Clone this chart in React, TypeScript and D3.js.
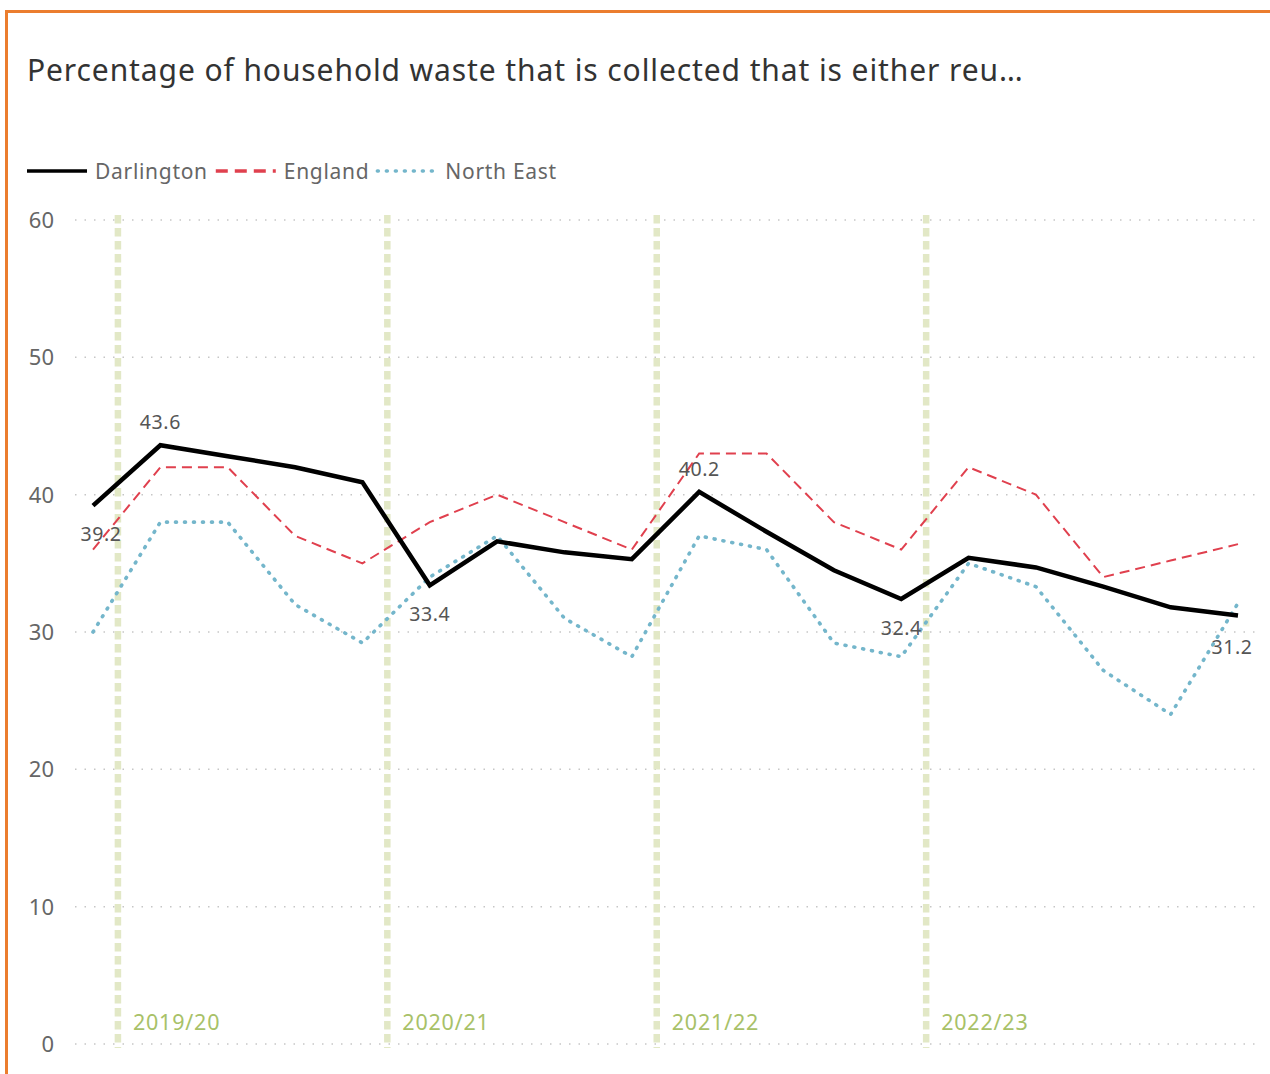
import { useEffect, useRef } from "react";
import * as d3 from "d3";

// quarterly values, Q4 2018/19 .. Q1 2023/24
const darlington = [39.2, 43.6, 42.8, 42.0, 40.9, 33.4, 36.6, 35.8, 35.3, 40.2, 37.3, 34.5, 32.4, 35.4, 34.7, 33.3, 31.8, 31.2];
const england = [36, 42, 42, 37, 35, 38, 40, 38, 36, 43, 43, 38, 36, 42, 40, 34, 35.2, 36.4];
const northEast = [30, 38, 38, 32, 29.2, 34, 37, 31, 28.2, 37, 36, 29.2, 28.2, 35, 33.3, 27.2, 24, 32.1];
const labelled = [0, 1, 5, 9, 12, 17];
const yTicks = [0, 10, 20, 30, 40, 50, 60];
// financial year starts, in quarter units from the first point
const yearStarts = [
  { label: "2019/20", at: 0.37 },
  { label: "2020/21", at: 4.37 },
  { label: "2021/22", at: 8.37 },
  { label: "2022/23", at: 12.37 },
];

const series = [
  { name: "Darlington", values: darlington, color: "#000000", width: 4.5, dash: null, cap: "butt" },
  { name: "England", values: england, color: "#e0404e", width: 2, dash: "10 6", cap: "butt" },
  { name: "North East", values: northEast, color: "#74b6cb", width: 3.6, dash: "1 8", cap: "round" },
];

const W = 1270;
const H = 1074;
const font = "'Noto Sans', 'Open Sans', sans-serif";

export default function App() {
  const ref = useRef<SVGSVGElement>(null);

  useEffect(() => {
    const svg = d3.select(ref.current);
    svg.selectAll("*").remove();

    const x = d3.scaleLinear().domain([0, darlington.length - 1]).range([93, 1238]);
    const y = d3.scaleLinear().domain([0, 60]).range([1044, 220]);

    // frame
    svg.append("path")
      .attr("d", `M6.5,${H} V11.5 H${W}`)
      .attr("fill", "none")
      .attr("stroke", "#eb7d2e")
      .attr("stroke-width", 3);

    svg.append("text")
      .attr("x", 27).attr("y", 81)
      .attr("font-family", font).attr("font-size", 30)
      .attr("letter-spacing", 0.9)
      .attr("fill", "#333")
      .text("Percentage of household waste that is collected that is either reu…");

    // legend
    const lg = svg.append("g").attr("transform", "translate(27,171)");
    let lx = 0;
    series.forEach((s) => {
      lg.append("line")
        .attr("x1", lx).attr("x2", lx + 60).attr("y1", 0).attr("y2", 0)
        .attr("stroke", s.color)
        .attr("stroke-width", 3.5)
        .attr("stroke-dasharray", s.name === "England" ? "12 7" : s.dash ?? null)
        .attr("stroke-linecap", s.cap);
      const t = lg.append("text")
        .attr("x", lx + 68).attr("y", 7.5)
        .attr("font-family", font).attr("font-size", 21)
        .attr("letter-spacing", 0.7)
        .attr("fill", "#666")
        .text(s.name);
      const w = (t.node() as SVGTextElement).getComputedTextLength();
      lx += 68 + w + 8;
    });

    // grid
    const grid = svg.append("g");
    yTicks.forEach((v) => {
      grid.append("line")
        .attr("x1", 75).attr("x2", 1256)
        .attr("y1", y(v)).attr("y2", y(v))
        .attr("stroke", "#c6c6c6").attr("stroke-width", 1.5)
        .attr("stroke-dasharray", "1.5 8");
      grid.append("text")
        .attr("x", 54).attr("y", y(v) + 8)
        .attr("text-anchor", "end")
        .attr("font-family", font).attr("font-size", 22)
        .attr("fill", "#666")
        .text(v);
    });

    // year markers
    yearStarts.forEach((ys) => {
      svg.append("line")
        .attr("x1", x(ys.at)).attr("x2", x(ys.at))
        .attr("y1", 215).attr("y2", 1048)
        .attr("stroke", "#e2e8c6").attr("stroke-width", 6.5)
        .attr("stroke-dasharray", "8.5 4.5");
      svg.append("text")
        .attr("x", x(ys.at) + 15).attr("y", 1030)
        .attr("font-family", font).attr("font-size", 21.5)
        .attr("letter-spacing", 0.8)
        .attr("fill", "#a8c168")
        .text(ys.label);
    });

    const line = d3.line<number>().x((_, i) => x(i)).y((d) => y(d));
    [...series].reverse().forEach((s) => {
      svg.append("path")
        .datum(s.values)
        .attr("d", line)
        .attr("fill", "none")
        .attr("stroke", s.color)
        .attr("stroke-width", s.width)
        .attr("stroke-dasharray", s.dash)
        .attr("stroke-linecap", s.cap)
        .attr("stroke-linejoin", "miter");
    });

    // data labels
    const lblOffset: Record<number, [number, number]> = {
      0: [8, 35], 1: [0, -16], 5: [0, 36], 9: [0, -16], 12: [0, 36], 17: [-6, 38],
    };
    labelled.forEach((i) => {
      const [dx, dy] = lblOffset[i];
      svg.append("text")
        .attr("x", x(i) + dx).attr("y", y(darlington[i]) + dy)
        .attr("text-anchor", "middle")
        .attr("font-family", font).attr("font-size", 19.5)
        .attr("letter-spacing", 0.6)
        .attr("fill", "#555")
        .text(darlington[i].toFixed(1));
    });
  }, []);

  return (
    <svg ref={ref} width={W} height={H}
      style={{ position: "absolute", left: 0, top: 0, background: "#fff" }} />
  );
}
